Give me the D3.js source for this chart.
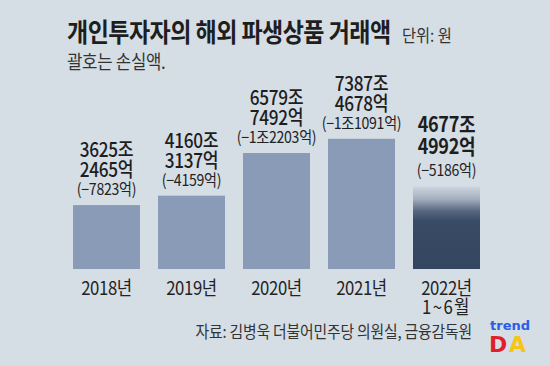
<!DOCTYPE html>
<html><head><meta charset="utf-8">
<script src="https://cdn.jsdelivr.net/npm/d3@7"></script>
<style>
html,body{margin:0;padding:0;background:#d5dde5;}
svg{display:block;font-family:"Noto Sans CJK KR","Noto Sans",sans-serif;}
</style></head>
<body>
<script>
const years = ["2018","2019","2020","2021","2022"];
const yearLabels = ["2018년","2019년","2020년","2021년","2022년"];
const values = [3625.2465, 4160.3137, 6579.7492, 7387.4678, 4677.4992]; // 조원
const joLabels = ["3625조","4160조","6579조","7387조","4677조"];
const eokLabels = ["2465억","3137억","7492억","4678억","4992억"];
const lossLabels = ["(−7823억)","(−4159억)","(−1조2203억)","(−1조1091억)","(−5186억)"];

const W = 550, H = 366;
const svg = d3.select("body").append("svg").attr("width", W).attr("height", H);
svg.append("rect").attr("width", W).attr("height", H).attr("fill", "#d5dde5");

function txt(x, y, str, o = {}) {
  const gg = svg.append("g").attr("transform", `translate(${x},${y}) scale(${o.sx || 0.88},1)`);
  return gg.append("text").attr("x", 0).attr("y", 0)
    .attr("text-anchor", o.anchor || "start")
    .attr("font-size", o.size || 16)
    .attr("font-weight", o.weight || 400)
    .attr("fill", o.fill || "#222")
    .attr("letter-spacing", o.ls == null ? -0.3 : o.ls)
    .text(str);
}

const defs = svg.append("defs");
const g = defs.append("linearGradient").attr("id","grad").attr("x1",0).attr("y1",0).attr("x2",0).attr("y2",1);
g.append("stop").attr("offset","0%").attr("stop-color","#cdd5de");
g.append("stop").attr("offset","15%").attr("stop-color","#a3afbf");
g.append("stop").attr("offset","30%").attr("stop-color","#56667f");
g.append("stop").attr("offset","42%").attr("stop-color","#3a4b65");
g.append("stop").attr("offset","100%").attr("stop-color","#344560");

const x = d3.scaleBand().domain(years).range([64, 489]).paddingInner(18/85).paddingOuter(9/85);
const y = d3.scaleLinear().domain([0, 8000]).range([269, 128]);

// title
txt(67, 42, "개인투자자의 해외 파생상품 거래액", {size: 26, weight: 700, fill: "#1e1e1e", sx: 0.885, ls: -0.6});
txt(402, 42, "단위: 원", {size: 17, fill: "#333", sx: 0.9, ls: 0});
txt(67, 69, "괄호는 손실액.", {size: 19, fill: "#333", sx: 0.88, ls: -0.3});

// bars
svg.selectAll("rect.bar").data(years).join("rect").attr("class","bar")
  .attr("x", d => x(d)).attr("width", x.bandwidth())
  .attr("y", (d,i) => y(values[i])).attr("height", (d,i) => y(0) - y(values[i]))
  .attr("fill", (d,i) => i === 4 ? "url(#grad)" : "#8a9bb7");

// labels
years.forEach((d, i) => {
  const cx = x(d) + x.bandwidth()/2;
  const top = y(values[i]);
  const last = i === 4;
  txt(cx, top - (last ? 55 : 48), joLabels[i], {anchor: "middle", size: last ? 21 : 20, weight: last ? 700 : 500, fill: "#1e1e1e", sx: 0.86, ls: -0.4});
  txt(cx, top - (last ? 33 : 28), eokLabels[i], {anchor: "middle", size: last ? 21 : 20, weight: last ? 700 : 500, fill: "#1e1e1e", sx: 0.86, ls: -0.4});
  txt(cx, top - (last ? 11 : 10), lossLabels[i], {anchor: "middle", size: 16, fill: "#222", sx: 0.88, ls: -0.3});
  txt(cx, 295, yearLabels[i], {anchor: "middle", size: 19, fill: "#222", sx: 0.88, ls: -0.4});
});
txt(x("2022") + x.bandwidth()/2, 314, "1~6월", {anchor: "middle", size: 19, fill: "#222", sx: 0.88, ls: 1.6});

// source
txt(472, 338, "자료: 김병욱 더불어민주당 의원실, 금융감독원", {anchor: "end", size: 16.5, fill: "#333", sx: 0.9, ls: -0.2});

// logo
svg.append("text").attr("x", 490).attr("y", 330).attr("font-size", 13).attr("font-weight", 700)
  .attr("fill","#2b5ce6").attr("font-family","DejaVu Sans, sans-serif").text("trend");
svg.append("text").attr("x", 489).attr("y", 352).attr("font-size", 22).attr("font-weight", 700)
  .attr("fill","#e11f2b").attr("font-family","DejaVu Sans, sans-serif").text("D");
svg.append("text").attr("x", 509).attr("y", 352).attr("font-size", 22).attr("font-weight", 700)
  .attr("fill","#f5c518").attr("font-family","DejaVu Sans, sans-serif").text("A");
</script>
</body></html>
